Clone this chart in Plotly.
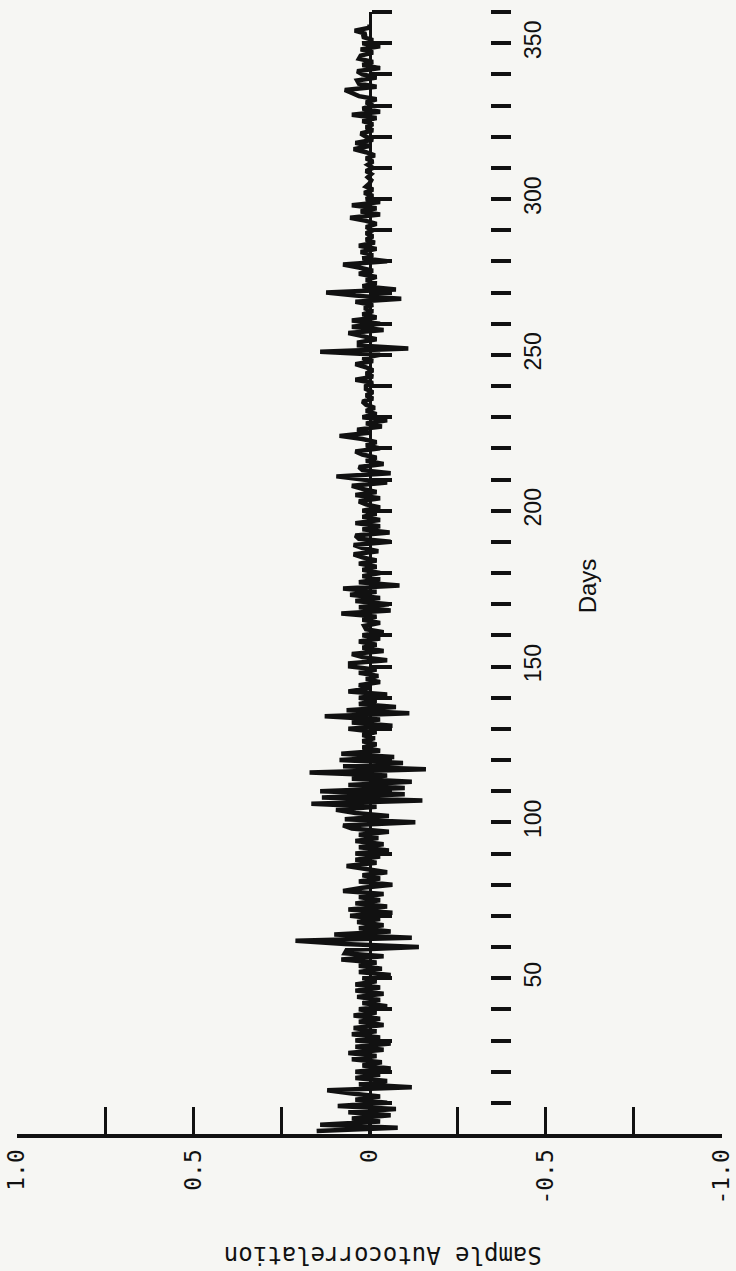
import plotly.graph_objects as go

# Days (lag) 1..356 and sample autocorrelation values
acf_001_010 = [0.15, -0.08, 0.14, -0.03, 0.05, -0.06, 0.06, -0.075, 0.09, -0.05]
acf_011_020 = [0.04, -0.03, 0.05, 0.12, -0.12, 0.03, -0.05, 0.04, -0.03, 0.04]
acf_021_030 = [-0.06, 0.02, -0.035, 0.05, -0.02, 0.06, -0.04, 0.04, -0.06, 0.04]
acf_031_040 = [-0.03, 0.05, -0.02, 0.045, -0.04, 0.03, -0.03, 0.045, -0.02, 0.03]
acf_041_050 = [-0.05, 0.02, -0.03, 0.035, -0.04, 0.04, -0.03, 0.04, -0.02, 0.02]
acf_051_060 = [-0.06, 0.03, -0.035, 0.03, -0.02, 0.08, -0.04, 0.07, 0.065, -0.14]
acf_061_070 = [0.07, 0.21, -0.12, 0.10, -0.06, 0.03, -0.04, 0.035, -0.03, 0.055]
acf_071_080 = [-0.065, 0.06, -0.05, 0.04, -0.03, 0.03, -0.04, 0.075, 0.02, -0.065]
acf_081_090 = [0.03, -0.03, 0.02, -0.05, 0.01, 0.065, -0.02, 0.04, -0.03, 0.04]
acf_091_100 = [-0.055, 0.03, -0.04, 0.04, -0.025, 0.03, -0.055, 0.05, 0.075, -0.13]
acf_101_110 = [0.07, -0.055, 0.04, 0.095, -0.02, 0.165, -0.15, 0.135, -0.10, 0.14]
acf_111_120 = [-0.10, 0.06, -0.12, 0.05, -0.05, 0.17, -0.16, 0.075, -0.095, 0.085]
acf_121_130 = [-0.07, 0.08, -0.03, 0.02, -0.02, 0.02, -0.015, 0.02, -0.02, 0.06]
acf_131_140 = [-0.065, 0.05, -0.03, 0.127, -0.113, 0.065, -0.075, 0.03, -0.02, 0.03]
acf_141_150 = [-0.05, 0.06, 0.0, 0.03, -0.03, 0.01, -0.025, 0.03, -0.02, 0.055]
acf_151_160 = [0.055, -0.05, 0.02, 0.05, -0.04, 0.02, -0.02, 0.03, -0.03, 0.02]
acf_161_170 = [-0.04, 0.01, 0.015, -0.03, 0.02, -0.02, 0.08, -0.06, 0.03, -0.055]
acf_171_180 = [0.04, -0.03, 0.055, -0.02, 0.075, -0.085, 0.03, -0.03, 0.02, -0.03]
acf_181_190 = [0.02, -0.02, 0.03, -0.02, 0.02, 0.045, -0.025, 0.02, 0.045, -0.06]
acf_191_200 = [0.03, 0.04, -0.057, 0.02, -0.03, 0.04, -0.03, 0.02, -0.02, 0.02]
acf_201_210 = [-0.03, 0.01, 0.03, -0.03, 0.04, -0.02, 0.02, 0.05, -0.05, 0.02]
acf_211_220 = [0.094, -0.06, 0.02, 0.03, -0.04, 0.01, -0.02, 0.02, 0.04, -0.03]
acf_221_230 = [0.01, -0.02, 0.02, 0.085, 0.0, 0.035, -0.035, 0.01, -0.05, 0.02]
acf_231_240 = [-0.02, 0.01, -0.015, 0.01, 0.02, -0.01, 0.01, -0.01, 0.01, 0.01]
acf_241_250 = [-0.01, 0.04, -0.01, 0.01, -0.01, 0.01, 0.04, -0.01, 0.02, -0.03]
acf_251_260 = [0.14, -0.11, 0.03, 0.03, -0.02, 0.02, 0.06, -0.04, 0.05, -0.03]
acf_261_270 = [0.05, -0.02, 0.02, -0.01, 0.015, -0.01, 0.04, -0.09, 0.04, 0.123]
acf_271_280 = [-0.075, 0.02, -0.02, 0.01, -0.02, 0.03, -0.01, 0.03, 0.075, -0.05]
acf_281_290 = [0.02, -0.01, 0.025, -0.02, 0.03, -0.015, 0.01, -0.01, 0.01, -0.01]
acf_291_300 = [0.01, -0.02, 0.01, 0.055, -0.03, 0.025, -0.02, 0.05, -0.03, 0.01]
acf_301_310 = [-0.01, 0.015, -0.01, 0.01, 0.0, -0.005, 0.005, -0.005, 0.01, -0.01]
acf_311_320 = [0.005, -0.01, 0.01, -0.015, 0.01, 0.045, 0.0, 0.04, -0.01, 0.01]
acf_321_330 = [0.025, -0.01, 0.01, -0.01, 0.02, -0.02, 0.05, -0.03, 0.02, -0.01]
acf_331_340 = [0.01, -0.02, 0.03, 0.05, 0.07, -0.02, 0.03, 0.035, -0.02, 0.02]
acf_341_350 = [0.035, -0.03, 0.02, -0.01, 0.03, 0.025, -0.01, 0.025, -0.03, 0.02]
acf_351_356 = [-0.01, 0.02, 0.01, 0.042, 0.0, 0.0]

acf = (acf_001_010 + acf_011_020 + acf_021_030 + acf_031_040 + acf_041_050 +
       acf_051_060 + acf_061_070 + acf_071_080 + acf_081_090 + acf_091_100 +
       acf_101_110 + acf_111_120 + acf_121_130 + acf_131_140 + acf_141_150 +
       acf_151_160 + acf_161_170 + acf_171_180 + acf_181_190 + acf_191_200 +
       acf_201_210 + acf_211_220 + acf_221_230 + acf_231_240 + acf_241_250 +
       acf_251_260 + acf_261_270 + acf_271_280 + acf_281_290 + acf_291_300 +
       acf_301_310 + acf_311_320 + acf_321_330 + acf_331_340 + acf_341_350 +
       acf_351_356)
days = list(range(1, len(acf) + 1))

acf_tickvals = [1.0, 0.75, 0.5, 0.25, 0.0, -0.25, -0.5, -0.75, -1.0]
acf_ticktext = ["1.0", "", "0.5", "", "0", "", "-0.5", "", "-1.0"]
day_labels = [50, 100, 150, 200, 250, 300, 350]
day_minor = list(range(10, 361, 10))

INK = "#111111"
BG = "#f6f6f3"

fig = go.Figure()
fig.add_trace(go.Scatter(x=acf, y=days, mode="lines",
                         line=dict(color=INK, width=4.5),
                         hoverinfo="skip", showlegend=False))
# companion (invisible) copy so the zero-line axis is drawn
fig.add_trace(go.Scatter(x=acf, y=days, yaxis="y2", mode="lines",
                         line=dict(color="rgba(0,0,0,0)", width=1),
                         hoverinfo="skip", showlegend=False))

fig.update_layout(
    width=736, height=1271,
    margin=dict(l=17, r=14, t=12, b=137, autoexpand=False),
    paper_bgcolor=BG, plot_bgcolor=BG,
    showlegend=False,
    xaxis=dict(range=[1.0, -1.0], domain=[0, 1], anchor="y", automargin=False,
               showgrid=False, zeroline=False,
               showline=True, linecolor=INK, linewidth=4,
               ticks="inside", ticklen=27, tickwidth=3, tickcolor=INK,
               tickmode="array", tickvals=acf_tickvals, ticktext=acf_ticktext,
               tickangle=-90, ticklabelstandoff=2, ticklabeloverflow="allow",
               tickfont=dict(family="DejaVu Sans Mono", size=23, color=INK)),
    yaxis=dict(range=[0, 360], anchor="free", position=0.671, side="right",
               automargin=False,
               showgrid=False, zeroline=False, showline=False,
               ticks="outside", ticklen=20, tickwidth=4, tickcolor=INK,
               tickmode="array", tickvals=day_labels,
               tickangle=-90, ticklabelstandoff=2,
               tickfont=dict(family="Liberation Sans", size=23, color=INK),
               minor=dict(tickmode="array", tickvals=day_minor, ticks="outside",
                          ticklen=20, tickwidth=4, tickcolor=INK)),
    yaxis2=dict(range=[0, 360], overlaying="y", anchor="free", position=0.5,
                side="right", automargin=False, showgrid=False, zeroline=False,
                showline=True, linecolor=INK, linewidth=3.5,
                ticks="outside", ticklen=20, tickwidth=4, tickcolor=INK,
                tickmode="array", tickvals=day_minor, showticklabels=False),
    annotations=[
        dict(text="Sample Autocorrelation", xref="paper", yref="paper",
             x=0.519, y=-0.108, xanchor="center", yanchor="middle",
             showarrow=False, textangle=180,
             font=dict(family="DejaVu Sans Mono", size=24, color=INK)),
        dict(text="Days", xref="paper", yref="paper",
             x=0.8085, y=0.489, xanchor="center", yanchor="middle",
             showarrow=False, textangle=-90,
             font=dict(family="Liberation Sans", size=24, color=INK)),
    ],
)

fig.write_html(
    "out.html",
    config={"displayModeBar": False, "staticPlot": True},
    post_script="document.body.style.margin='0px';"
                "document.body.style.background='" + BG + "';",
)
